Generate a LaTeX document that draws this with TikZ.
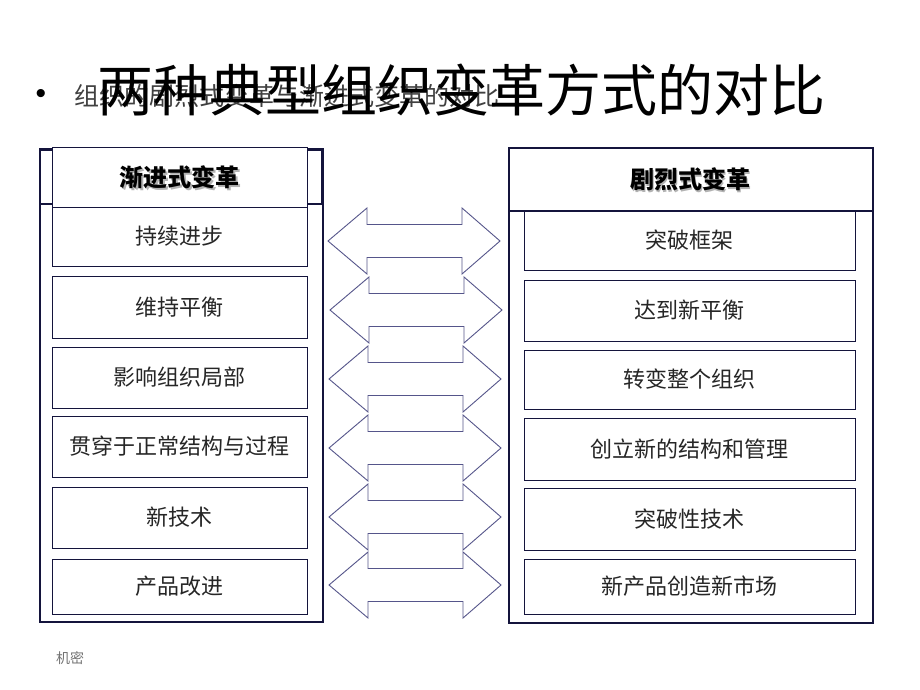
\documentclass[tikz,border=0pt]{standalone}
\usepackage{fontspec}
\setmainfont{Liberation Sans}
\newfontfamily\cjk{Noto Sans CJK SC}
\definecolor{boxline}{HTML}{14143C}
\definecolor{arrline}{HTML}{55558A}
\definecolor{subgrey}{HTML}{404040}
\tikzset{
  frame/.style={draw=boxline, line width=1.1pt},
  headfr/.style={draw=boxline, line width=1.7pt},
  item/.style={draw=boxline, line width=0.9pt, fill=white, inner sep=0pt, font=\cjk\fontsize{22}{26}\selectfont, text=black!85},
  headtxt/.style={font=\cjk\bfseries\fontsize{24}{28}\selectfont, text=black},
  dblarrow/.style={draw=arrline, line width=0.9pt, fill=white, line join=miter},
}
\begin{document}
\begin{tikzpicture}[x=1pt,y=-1pt]
\useasboundingbox (0,0) rectangle (920,690);
\fill[white] (0,0) rectangle (920,690);
% subtitle and title
\node[inner sep=0pt, font=\fontsize{30}{32}\selectfont, text=black] (bul) at (41,96) {•};
\node[anchor=west, inner sep=0pt, font=\cjk\fontsize{25}{28}\selectfont, text=subgrey] (sub) at (74,96) {组织的剧烈式变革与渐进式变革的对比};
\node[inner sep=0pt, font=\cjk\fontsize{56}{60}\selectfont, text=black] (title) at (461,90) {两种典型组织变革方式的对比};
% left frame
\draw[frame] (40,149) rectangle (323,622);
\draw[headfr] (40,150) rectangle (322,204);
\node[item, minimum width=255pt, minimum height=60pt] (lh) at (179.5,177) {};
\node[headtxt, text=black!30] at (181,179) {渐进式变革};
\node[headtxt] (lht) at (179.5,177) {渐进式变革};
\node[item, minimum width=255pt, minimum height=59pt] (l1) at (179.5,236.5) {持续进步};
\node[item, minimum width=255pt, minimum height=62pt] (l2) at (179.5,307) {维持平衡};
\node[item, minimum width=255pt, minimum height=61pt] (l3) at (179.5,377.5) {影响组织局部};
\node[item, minimum width=255pt, minimum height=61pt] (l4) at (179.5,446.5) {贯穿于正常结构与过程};
\node[item, minimum width=255pt, minimum height=61pt] (l5) at (179.5,517.5) {新技术};
\node[item, minimum width=255pt, minimum height=55pt] (l6) at (179.5,586.5) {产品改进};
% right frame
\draw[frame] (509,148) rectangle (873,623);
\draw[headfr] (509,148) rectangle (873,211);
\node[headtxt, text=black!30] at (691.5,181) {剧烈式变革};
\node[headtxt] (rht) at (690,179) {剧烈式变革};
\node[item, minimum width=331pt, minimum height=59pt] (r1) at (689.5,240.5) {突破框架};
\node[item, minimum width=331pt, minimum height=61pt] (r2) at (689.5,310.5) {达到新平衡};
\node[item, minimum width=331pt, minimum height=59pt] (r3) at (689.5,379.5) {转变整个组织};
\node[item, minimum width=331pt, minimum height=62pt] (r4) at (689.5,449) {创立新的结构和管理};
\node[item, minimum width=331pt, minimum height=62pt] (r5) at (689.5,519) {突破性技术};
\node[item, minimum width=331pt, minimum height=55pt] (r6) at (689.5,586.5) {新产品创造新市场};
% double arrows
\foreach \yc/\dx in {241/0, 310/2, 379/1, 448/1, 517/1, 585/1}{
  \draw[dblarrow] (328+\dx,\yc) -- (367+\dx,\yc-33) -- (367+\dx,\yc-16.5) -- (462+\dx,\yc-16.5) -- (462+\dx,\yc-33)
     -- (500+\dx,\yc) -- (462+\dx,\yc+33) -- (462+\dx,\yc+16.5) -- (367+\dx,\yc+16.5) -- (367+\dx,\yc+33) -- cycle;
}
% footer
\node[anchor=west, inner sep=0pt, font=\cjk\fontsize{14}{16}\selectfont, text=black!55] (conf) at (56,658) {机密};
\end{tikzpicture}
\end{document}
